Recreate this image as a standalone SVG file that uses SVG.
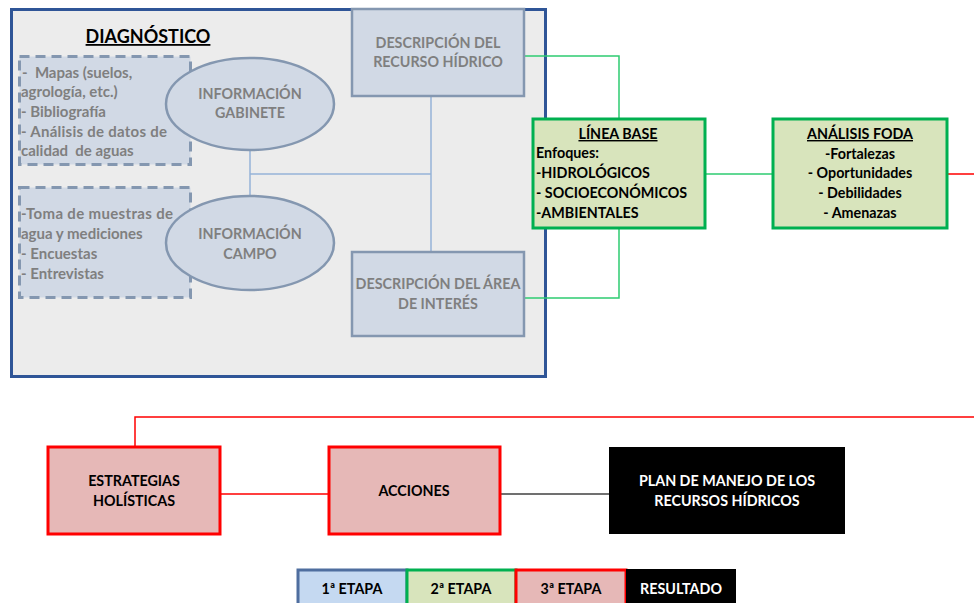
<svg xmlns="http://www.w3.org/2000/svg" width="974" height="603" viewBox="0 0 974 603">
<style>
text{font-family:Lato,"Liberation Sans",Arial,sans-serif;font-size:14.3px;font-weight:bold}
.g{fill:#7f7f7f}
.l{font-size:15px}
.k{fill:#000}
.w{fill:#fff}
.c{text-anchor:middle}
.dash{fill:#d1d9e5;stroke:#8497b0;stroke-width:3;stroke-dasharray:10 6}
.ell{fill:#d1d9e5;stroke:#8497b0;stroke-width:2.5}
.bx{fill:#d1d9e5;stroke:#8497b0;stroke-width:2.5}
.gb{fill:#d8e4bc;stroke:#00b050;stroke-width:3}
.rb{fill:#e6b8b7;stroke:#ff0000;stroke-width:3}
.ln{fill:none;stroke-width:1.5}
</style>
<rect x="0" y="0" width="974" height="603" fill="#fff"/>
<g id="diagnostico">
<rect x="11.5" y="9.5" width="534" height="367" fill="#ececec" stroke="#2f5597" stroke-width="3"/>
<text x="148" y="43" class="k c" style="font-size:18px;text-decoration:underline">DIAGNÓSTICO</text>
</g>
<g id="connectors">
<path class="ln" stroke="#95b3d7" d="M250 150V196M250 174H431M431 96V252"/>
<path class="ln" stroke="#2ecc71" d="M524 56H619V119M619 228V298H524M705 174H773"/>
<path class="ln" stroke="#ff0000" d="M947 174H974M974 417H135V447M220 494H329"/>
<path class="ln" stroke="#404040" d="M500 494H609"/>
</g>
<g id="gabinete-lista">
<rect class="dash" x="19.5" y="56.5" width="171" height="108"/>
<text class="g l" x="22" y="78" xml:space="preserve">-  Mapas (suelos,</text>
<text class="g l" x="21" y="97">agrología, etc.)</text>
<text class="g l" x="21" y="117">- Bibliografía</text>
<text class="g l" x="21" y="137" textLength="146" lengthAdjust="spacing">- Análisis de datos de</text>
<text class="g l" x="21" y="156" xml:space="preserve">calidad  de aguas</text>
</g>
<g id="campo-lista">
<rect class="dash" x="19.5" y="187.5" width="171" height="110"/>
<text class="g l" x="21" y="219" textLength="152" lengthAdjust="spacing">-Toma de muestras de</text>
<text class="g l" x="21" y="239">agua y mediciones</text>
<text class="g l" x="21" y="259">- Encuestas</text>
<text class="g l" x="21" y="279">- Entrevistas</text>
</g>
<g id="info-gabinete">
<ellipse class="ell" cx="250" cy="104" rx="84" ry="46"/>
<text class="g c" x="250" y="99">INFORMACIÓN</text>
<text class="g c" x="250" y="118">GABINETE</text>
</g>
<g id="info-campo">
<ellipse class="ell" cx="250" cy="243" rx="84" ry="47"/>
<text class="g c" x="250" y="239">INFORMACIÓN</text>
<text class="g c" x="250" y="259">CAMPO</text>
</g>
<g id="desc-recurso">
<rect class="bx" x="352" y="9" width="172" height="87"/>
<text class="g c" x="438" y="48">DESCRIPCIÓN DEL</text>
<text class="g c" x="438" y="67">RECURSO HÍDRICO</text>
</g>
<g id="desc-area">
<rect class="bx" x="352" y="252" width="172" height="84"/>
<text class="g c" x="438" y="289">DESCRIPCIÓN DEL ÁREA</text>
<text class="g c" x="438" y="309">DE INTERÉS</text>
</g>
<g id="linea-base">
<rect class="gb" x="533" y="119" width="172" height="109"/>
<text class="k c" x="618" y="139" style="text-decoration:underline">LÍNEA BASE</text>
<text class="k" x="536" y="158">Enfoques:</text>
<text class="k" x="536" y="178">-HIDROLÓGICOS</text>
<text class="k" x="536" y="198">- SOCIOECONÓMICOS</text>
<text class="k" x="536" y="218">-AMBIENTALES</text>
</g>
<g id="foda">
<rect class="gb" x="773" y="119" width="174" height="109"/>
<text class="k c" x="860" y="139" style="text-decoration:underline">ANÁLISIS FODA</text>
<text class="k c" x="860" y="159">-Fortalezas</text>
<text class="k c" x="860" y="178">- Oportunidades</text>
<text class="k c" x="860" y="198">- Debilidades</text>
<text class="k c" x="860" y="218">- Amenazas</text>
</g>
<g id="estrategias">
<rect class="rb" x="48" y="447" width="172" height="87"/>
<text class="k c" x="134" y="486">ESTRATEGIAS</text>
<text class="k c" x="134" y="506">HOLÍSTICAS</text>
</g>
<g id="acciones">
<rect class="rb" x="329" y="447" width="171" height="87"/>
<text class="k c" x="414" y="496">ACCIONES</text>
</g>
<g id="plan">
<rect x="609" y="447" width="236" height="87" fill="#000"/>
<text class="w c" x="727" y="486">PLAN DE MANEJO DE LOS</text>
<text class="w c" x="727" y="506">RECURSOS HÍDRICOS</text>
</g>
<g id="leyenda">
<rect x="298" y="570" width="109" height="40" fill="#c5d9f1" stroke="#4f6e9f" stroke-width="3"/>
<rect x="407" y="570" width="109" height="40" fill="#d8e4bc" stroke="#00b050" stroke-width="3"/>
<rect x="516" y="570" width="110" height="40" fill="#e6b8b7" stroke="#ff0000" stroke-width="3"/>
<rect x="626" y="569" width="110" height="40" fill="#000"/>
<text class="k c" x="352" y="594">1ª ETAPA</text>
<text class="k c" x="461" y="594">2ª ETAPA</text>
<text class="k c" x="571" y="594">3ª ETAPA</text>
<text class="w c" x="681" y="594">RESULTADO</text>
</g>
</svg>
